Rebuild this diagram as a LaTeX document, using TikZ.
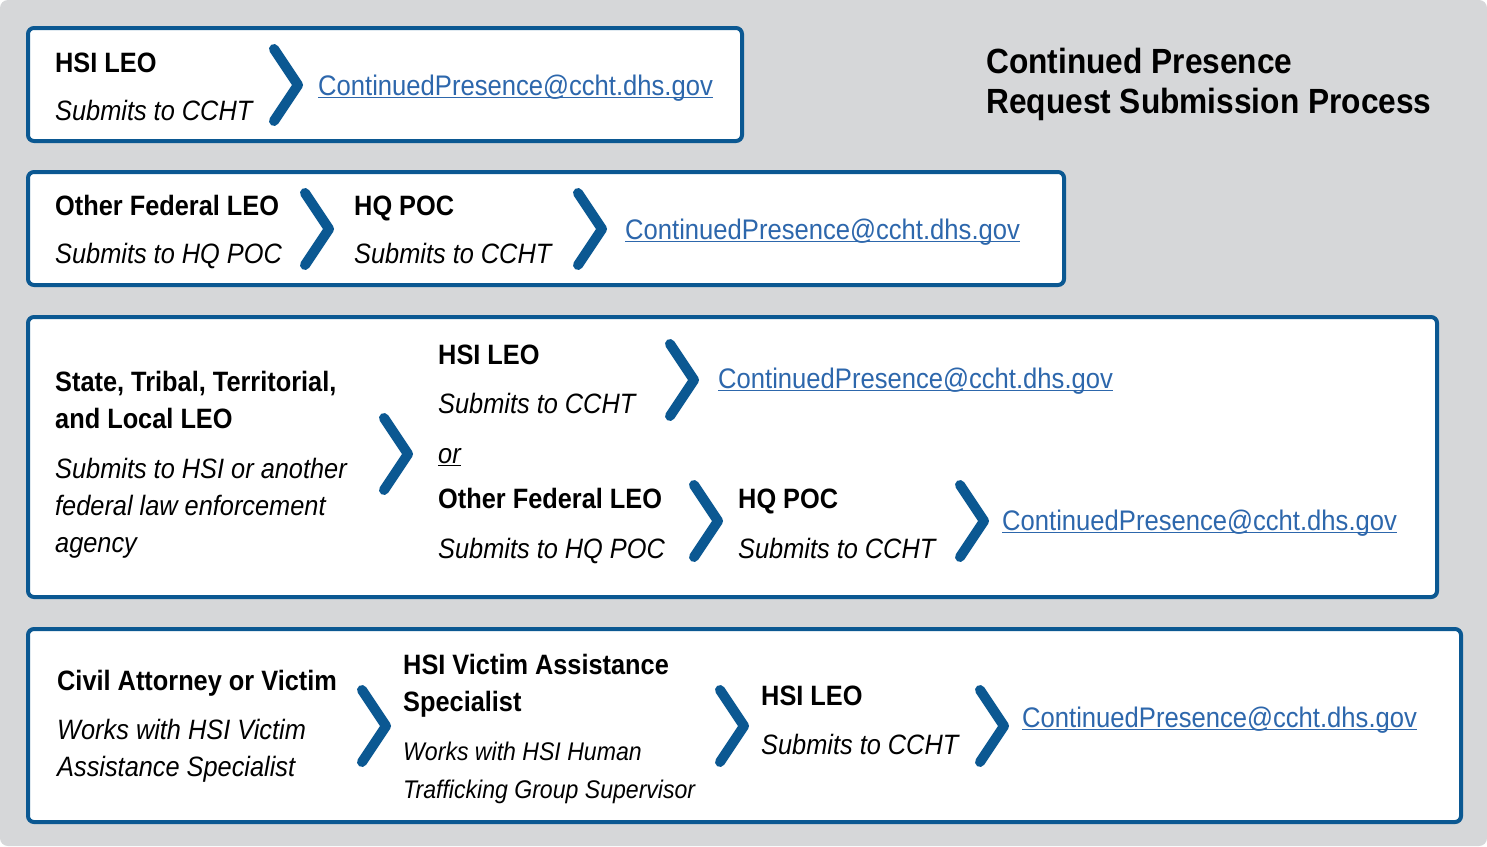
\documentclass[tikz,border=0pt]{standalone}
\usepackage{fontspec}
\setmainfont{Liberation Sans}[FakeStretch=0.905]
\definecolor{dhsblue}{HTML}{0B5892}
\definecolor{linkblue}{HTML}{2D67AC}
\definecolor{panel}{HTML}{D6D7D9}
\newcommand\linkul[1]{\setbox0\hbox{#1}\rlap{\rule[-3pt]{\wd0}{1.3pt}}\box0}
\begin{document}
\begin{tikzpicture}[x=1pt,y=-1pt,
  box/.style={draw=dhsblue, line width=4pt, rounded corners=6pt, fill=white},
  who/.style={inner sep=0pt, font=\fontsize{28}{37}\selectfont\bfseries, align=left},
  act/.style={inner sep=0pt, font=\fontsize{28}{37}\selectfont\itshape, align=left},
  smallact/.style={inner sep=0pt, font=\fontsize{25.5}{38}\selectfont\itshape, align=left},
  link/.style={inner sep=0pt, anchor=base west, font=\fontsize{28.3}{37}\selectfont, text=linkblue},
  ttl/.style={inner sep=0pt, anchor=north west, font=\fontsize{35}{40}\selectfont\bfseries, align=left},
  chev/.pic={\draw[dhsblue, line width=10pt, line cap=round, line join=round] (-24,-36) -- (0,0) -- (-24,36);}
]
\useasboundingbox (0,0) rectangle (1487,846);
\fill[white] (0,0) rectangle (1487,846);
\fill[panel, rounded corners=8pt] (0,0) rectangle (1487,846);

% boxes
\draw[box] (28,28) rectangle (742,141);
\draw[box] (28,172) rectangle (1064,285);
\draw[box] (28,317) rectangle (1437,597);
\draw[box] (28,629) rectangle (1461,822);

% title
\node[ttl] (title) at (986,48) {Continued Presence\\Request Submission Process};

% row 1
\node[who, anchor=base west] (a1) at (55,72) {HSI LEO};
\node[act, anchor=base west] (a1s) at (55,120) {Submits to CCHT};
\pic at (298,85) {chev};
\node[link] (m1) at (318,95) {\linkul{ContinuedPresence@ccht.dhs.gov}};

% row 2
\node[who, anchor=base west] (b1) at (55,215) {Other Federal LEO};
\node[act, anchor=base west] (b1s) at (55,263) {Submits to HQ POC};
\pic at (329,229) {chev};
\node[who, anchor=base west] (b2) at (354,215) {HQ POC};
\node[act, anchor=base west] (b2s) at (354,263) {Submits to CCHT};
\pic at (602,229) {chev};
\node[link] (m2) at (625,239) {\linkul{ContinuedPresence@ccht.dhs.gov}};

% row 3
\node[who, anchor=north west] (c1) at (55,371) {State, Tribal, Territorial,\\and Local LEO};
\node[act, anchor=north west] (c1s) at (55,458) {Submits to HSI or another\\federal law enforcement\\agency};
\pic at (408,454) {chev};
\node[who, anchor=base west] (c2) at (438,364) {HSI LEO};
\node[act, anchor=base west] (c2s) at (438,413) {Submits to CCHT};
\pic at (694,380) {chev};
\node[link] (m3) at (718,388) {\linkul{ContinuedPresence@ccht.dhs.gov}};
\node[act, anchor=base west] (or) at (438,463) {\linkul{or}};
\node[who, anchor=base west] (c3) at (438,508) {Other Federal LEO};
\node[act, anchor=base west] (c3s) at (438,558) {Submits to HQ POC};
\pic at (718,521) {chev};
\node[who, anchor=base west] (c4) at (738,508) {HQ POC};
\node[act, anchor=base west] (c4s) at (738,558) {Submits to CCHT};
\pic at (984,521) {chev};
\node[link] (m4) at (1002,530) {\linkul{ContinuedPresence@ccht.dhs.gov}};

% row 4
\node[who, anchor=base west] (d1) at (57,690) {Civil Attorney or Victim};
\node[act, anchor=north west] (d1s) at (57,719) {Works with HSI Victim\\Assistance Specialist};
\pic at (386,726) {chev};
\node[who, anchor=north west] (d2) at (403,654) {HSI Victim Assistance\\Specialist};
\node[smallact, anchor=north west] (d2s) at (403,741.5) {Works with HSI Human\\Trafficking Group Supervisor};
\pic at (744,726) {chev};
\node[who, anchor=base west] (d3) at (761,705) {HSI LEO};
\node[act, anchor=base west] (d3s) at (761,754) {Submits to CCHT};
\pic at (1004,726) {chev};
\node[link] (m5) at (1022,727) {\linkul{ContinuedPresence@ccht.dhs.gov}};
\end{tikzpicture}
\end{document}
